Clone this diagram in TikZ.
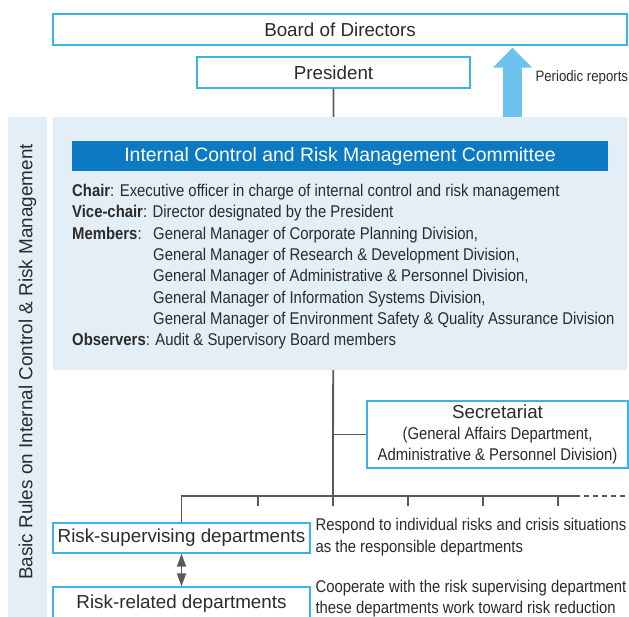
\documentclass[tikz,border=0pt]{standalone}
\usepackage{fontspec}
\setmainfont{Liberation Sans}
\newfontfamily\condfont[FakeStretch=0.875]{Liberation Sans}
\newcommand\condtext{\condfont\fontsize{17}{21.3}\selectfont}
\usetikzlibrary{arrows.meta}
\definecolor{boxline}{HTML}{3AB4E4}
\definecolor{panelfill}{HTML}{E3EEF7}
\definecolor{barblue}{HTML}{0B7AC2}
\definecolor{reportblue}{HTML}{6CC4EE}
\definecolor{treegray}{HTML}{5A5A5A}
\definecolor{inkgray}{HTML}{2B2B2B}
\begin{document}
\begin{tikzpicture}[x=1pt,y=-1pt,
  every node/.style={text=inkgray},
  orgbox/.style={draw=boxline,line width=1.3pt,fill=white,inner sep=0pt,font=\fontsize{18.8}{21}\selectfont},
  cond/.style={font=\condtext},
  tree/.style={draw=treegray,line width=1.8pt}]
\useasboundingbox (0,0) rectangle (629,617);
\clip (0,0) rectangle (629,617);
\node[orgbox,minimum width=574pt,minimum height=31pt] (board) at (340,29.5) {Board of Directors};
\node[orgbox,minimum width=273pt,minimum height=31pt] (pres) at (333.5,72.5) {President};
\draw[tree] (pres.south) -- (333,506);
\fill[panelfill] (8,117) rectangle (47,617);
\fill[panelfill] (53,117) rectangle (627,370);
\node[rotate=90,font=\fontsize{18.9}{21}\selectfont] (rules) at (27.5,362) {Basic Rules on Internal Control \& Risk Management};
\coordinate (repbase) at (512.5,117);
\draw[reportblue,line width=19pt,-{Triangle[width=38pt,length=20pt]},shorten >=2pt] (repbase) -- (repbase |- board.south);
\node[font=\condfont\fontsize{15.1}{17}\selectfont,anchor=west] (rep) at (532,78) {Periodic reports};
\node[fill=barblue,text=white,minimum width=536pt,minimum height=30pt,inner sep=0pt,font=\fontsize{19.4}{21}\selectfont] (cmt) at (340,156) {Internal Control and Risk Management Committee};
\node[cond,anchor=north west,align=left,inner sep=0pt] (roles) at (72,184) {\textbf{Chair}: Executive officer in charge of internal control and risk management\\
\textbf{Vice-chair}: Director designated by the President\\
\makebox[81pt][l]{\textbf{Members}:}General Manager of Corporate Planning Division,\\
\hspace*{81pt}General Manager of Research \& Development Division,\\
\hspace*{81pt}General Manager of Administrative \& Personnel Division,\\
\hspace*{81pt}General Manager of Information Systems Division,\\
\hspace*{81pt}General Manager of Environment Safety \& Quality Assurance Division\\
\textbf{Observers}: Audit \& Supervisory Board members};
\node[orgbox,minimum width=261pt,minimum height=67pt,align=center,text depth=4pt] (sec) at (497.5,434.5) {Secretariat\\\condtext (General Affairs Department,\\\condtext Administrative \& Personnel Division)};
\draw[tree] (sec.west) -- (sec.west -| pres.south);
\node[orgbox,minimum width=257pt,minimum height=30pt] (sup) at (181.5,538) {Risk-supervising departments};
\node[orgbox,minimum width=257pt,minimum height=33pt] (rel) at (181.5,603.5) {Risk-related departments};
\coordinate (busend) at (575,496);
\draw[tree] (sup.north) |- (busend);
\draw[tree,dash pattern=on 5pt off 4pt] (busend) -- ++(54,0);
\foreach \x in {258,408,483,558} \draw[tree] (\x,496) -- (\x,506);
\draw[tree,{Triangle[length=13pt,width=9pt]}-{Triangle[length=13pt,width=9pt]}] (sup.south) -- (rel.north);
\node[cond,anchor=west,align=left] (supnote) at (312,537) {Respond to individual risks and crisis situations\\as the responsible departments};
\node[cond,anchor=west,align=left] (relnote) at (312,598.5) {Cooperate with the risk supervising department\\these departments work toward risk reduction};
\end{tikzpicture}
\end{document}
